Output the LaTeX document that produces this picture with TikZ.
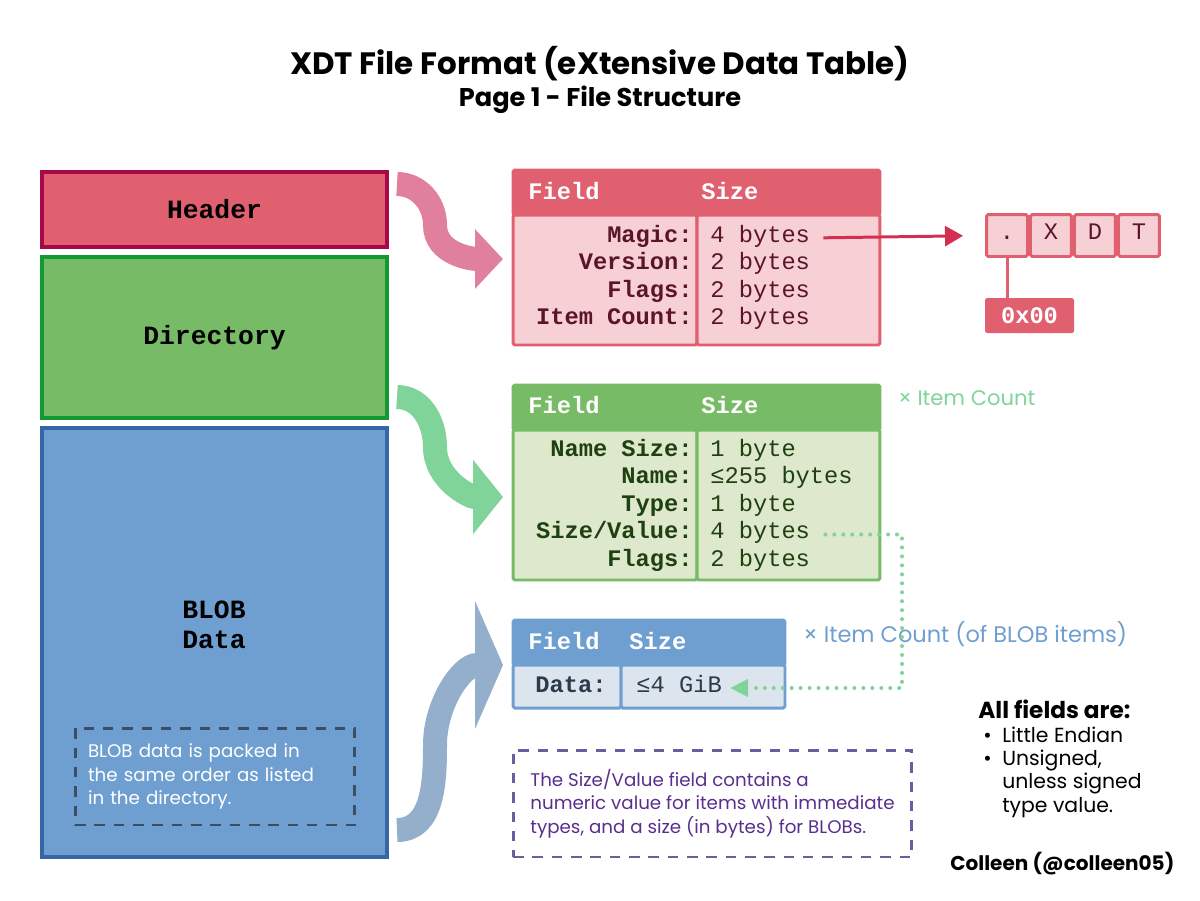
\documentclass[tikz,border=0pt]{standalone}
\usepackage{fontspec}
\setmonofont{Liberation Mono}
\newfontfamily\handfont{Poppins}
\usetikzlibrary{positioning,arrows.meta}

\definecolor{hdrred}{HTML}{E0606F}
\definecolor{hdrdark}{HTML}{A8084A}
\definecolor{hdrlight}{HTML}{F7D0D6}
\definecolor{hdrtext}{HTML}{5C1428}
\definecolor{hdrarrow}{HTML}{E0809C}
\definecolor{magicred}{HTML}{D42E50}
\definecolor{dirgreen}{HTML}{77BB66}
\definecolor{dirdark}{HTML}{119933}
\definecolor{dirlight}{HTML}{DEE8CC}
\definecolor{dirtext}{HTML}{1F4010}
\definecolor{dirarrow}{HTML}{80D49A}
\definecolor{blobblue}{HTML}{6F9FD0}
\definecolor{blobdark}{HTML}{3766A6}
\definecolor{bloblight}{HTML}{DCE4EE}
\definecolor{blobtext}{HTML}{2B3B4B}
\definecolor{blobarrow}{HTML}{93AFCC}
\definecolor{notegrey}{HTML}{3A4F66}
\definecolor{notepurple}{HTML}{6E5BA0}
\definecolor{notetext}{HTML}{5A2E8E}

\begin{document}
\begin{tikzpicture}[
  x=0.02cm, y=-0.02cm,
  part/.style={draw, line width=2.3pt, minimum width=6.9cm, font=\ttfamily\bfseries\fontsize{15}{17}\selectfont, align=center},
  thead/.style={draw, line width=1.7pt, rounded corners=1pt, minimum height=0.9cm},
  tbody/.style={draw, line width=1.7pt, rounded corners=1pt},
  cell/.style={inner sep=0pt, text height=1.6ex, text depth=0.45ex, font=\ttfamily\fontsize{13.5}{15.6}\selectfont},
  fname/.style={cell, anchor=east, font=\ttfamily\bfseries\fontsize{13.5}{15.6}\selectfont},
  fsize/.style={cell, anchor=west},
  colhead/.style={cell, anchor=west, text=white, font=\ttfamily\bfseries\fontsize{13.5}{15.6}\selectfont},
  xcell/.style={draw=hdrred, fill=hdrlight, line width=1.7pt, rounded corners=1pt, minimum width=0.82cm, minimum height=0.84cm, text height=1.6ex, text depth=0.45ex, text=hdrtext, font=\ttfamily\fontsize{13.5}{15.6}\selectfont},
  bigarr/.style={line width=0.48cm},
  hand/.style={inner sep=0pt, font=\handfont\fontsize{10.4}{13.3}\selectfont},
  notebox/.style={hand, draw, dashed, dash pattern=on 6pt off 5pt, line width=1.7pt, align=left},
  dotline/.style={dirarrow, line width=2.3pt, line cap=round, dash pattern=on 0pt off 5.1pt}
]
\useasboundingbox (0,0) rectangle (1200,900);

% title
\node[font=\handfont\bfseries\fontsize{17.6}{21}\selectfont] (title) at (600,64) {XDT File Format (eXtensive Data Table)};
\node[font=\handfont\bfseries\fontsize{14.6}{17}\selectfont] (subtitle) at (600,100) {Page 1 - File Structure};

% file parts
\node[part, fill=hdrred, draw=hdrdark, minimum height=1.5cm] (hdr) at (214.5,209.5) {Header};
\node[part, fill=dirgreen, draw=dirdark, minimum height=3.22cm] (dir) at (214.5,337.5) {Directory};
\node[part, fill=blobblue, draw=blobdark, minimum height=8.58cm] (blob) at (214.5,642.5) {};
\node[font=\ttfamily\bfseries\fontsize{15}{17}\selectfont, align=center] (blobname) at (214,625) {BLOB\\Data};
\node[notebox, draw=notegrey, text=white, minimum width=5.6cm, minimum height=1.94cm, text width=5.08cm] (blobnote) at (215,776.5)
  {BLOB data is packed in\\the same order as listed\\in the directory.};

% big arrows
\draw[bigarr, hdrarrow, -{Triangle[length=0.56cm,width=1.16cm]}] (397,184) to[out=0,in=90] (435,225) to[out=-90,in=180] (503,259);
\draw[bigarr, dirarrow, -{Triangle[length=0.6cm,width=1.46cm]}] (397,397) to[out=0,in=90] (435,447) to[out=-90,in=180] (503,497);
\draw[bigarr, blobarrow, -{Triangle[length=0.56cm,width=2.54cm]}] (397,830) to[out=0,in=-90] (435,745) to[out=90,in=180] (503,665);

% header table
\node[thead, fill=hdrred, draw=hdrred, minimum width=7.34cm] (htitle) at (696.5,192.5) {};
\node[tbody, fill=hdrlight, draw=hdrred, minimum width=3.68cm, minimum height=2.6cm] (hleft) at (605,280) {};
\node[tbody, fill=hdrlight, draw=hdrred, minimum width=3.66cm, minimum height=2.6cm] (hright) at (788.5,280) {};
\node[colhead] (hfield) at (528,195) {Field};
\node[colhead] (hsize) at (701,195) {Size};
\node[fname, text=hdrtext] (hn1) at (693,238) {Magic:};
\node[fname, text=hdrtext] (hn2) at (693,265.5) {Version:};
\node[fname, text=hdrtext] (hn3) at (693,293) {Flags:};
\node[fname, text=hdrtext] (hn4) at (693,320.5) {Item Count:};
\node[fsize, text=hdrtext] (hv1) at (710,238) {4 bytes};
\node[fsize, text=hdrtext] (hv2) at (710,265.5) {2 bytes};
\node[fsize, text=hdrtext] (hv3) at (710,293) {2 bytes};
\node[fsize, text=hdrtext] (hv4) at (710,320.5) {2 bytes};

% magic bytes
\node[xcell] (xdot) at (1007,235.5) {.};
\node[xcell, right=0pt of xdot] (xx) {X};
\node[xcell, right=0pt of xx] (xd) {D};
\node[xcell, right=0pt of xd] (xt) {T};
\node[fill=hdrred, rounded corners=1pt, minimum width=1.78cm, minimum height=0.7cm, text=white, font=\ttfamily\bfseries\fontsize{13.5}{15.6}\selectfont] (zero) at (1029.5,315.5) {0x00};
\draw[line width=1.7pt, magicred, -{Triangle[length=0.36cm,width=0.4cm]}, shorten <=0.26cm, shorten >=0.44cm] (hv1.east) -- (xdot.west);
\draw[line width=1.7pt, hdrred] (xdot.south) -- (xdot.south |- zero.north);

% directory table
\node[thead, fill=dirgreen, draw=dirgreen, minimum width=7.34cm] (dtitle) at (696.5,407.5) {};
\node[tbody, fill=dirlight, draw=dirgreen, minimum width=3.68cm, minimum height=3cm] (dleft) at (605,505) {};
\node[tbody, fill=dirlight, draw=dirgreen, minimum width=3.66cm, minimum height=3cm] (dright) at (788.5,505) {};
\node[colhead] (dfield) at (528,409) {Field};
\node[colhead] (dsize) at (701,409) {Size};
\node[fname, text=dirtext] (dn1) at (693,452) {Name Size:};
\node[fname, text=dirtext] (dn2) at (693,479.5) {Name:};
\node[fname, text=dirtext] (dn3) at (693,507) {Type:};
\node[fname, text=dirtext] (dn4) at (693,534.5) {Size/Value:};
\node[fname, text=dirtext] (dn5) at (693,562) {Flags:};
\node[fsize, text=dirtext] (dv1) at (710,452) {1 byte};
\node[fsize, text=dirtext] (dv2) at (710,479.5) {≤255 bytes};
\node[fsize, text=dirtext] (dv3) at (710,507) {1 byte};
\node[fsize, text=dirtext] (dv4) at (710,534.5) {4 bytes};
\node[fsize, text=dirtext] (dv5) at (710,562) {2 bytes};
\node[hand, anchor=base west, text=dirarrow, font=\handfont\fontsize{12}{14}\selectfont] (dcount) at (898,405) {× Item Count};

% blob table
\node[thead, fill=blobblue, draw=blobblue, minimum width=5.44cm] (btitle) at (649,642.5) {};
\node[tbody, fill=bloblight, draw=blobblue, minimum width=2.16cm, minimum height=0.86cm] (bleft) at (567,686.5) {};
\node[tbody, fill=bloblight, draw=blobblue, minimum width=3.28cm, minimum height=0.86cm] (bright) at (703,686.5) {};
\node[colhead] (bfield) at (528,645) {Field};
\node[colhead] (bsize) at (629,645) {Size};
\node[fname, text=blobtext] (bn) at (607,688) {Data:};
\node[fsize, text=blobtext] (bv) at (636,688) {≤4 GiB};
\node[hand, anchor=base west, text=blobblue, font=\handfont\fontsize{12.8}{15}\selectfont] (bcount) at (803,642) {× Item Count (of BLOB items)};

% size/value goes to the data size
\coordinate (dotx) at (902,600);
\draw[dotline, -{Triangle[length=0.36cm,width=0.34cm]}] ([xshift=0.3cm]dv4.east) -| (dotx |- bv.east) -- ([xshift=0.16cm]bv.east);

% notes
\node[notebox, draw=notepurple, text=notetext, minimum width=7.98cm, minimum height=2.14cm] (svnote) at (712.5,803.5)
  {The Size/Value field contains a\\numeric value for items with immediate\\types, and a size (in bytes) for BLOBs.};
\node[hand, anchor=base west, font=\handfont\bfseries\fontsize{13.2}{16}\selectfont] (allf) at (978,718) {All fields are:};
\node[hand, anchor=north west, align=left, font=\handfont\fontsize{11.6}{13.2}\selectfont] (allfl) at (983,726)
  {\begin{tabular}{@{}l@{\hspace{6pt}}l@{}}
   \textbullet & Little Endian\\
   \textbullet & Unsigned,\\
   & unless signed\\
   & type value.
   \end{tabular}};
\node[hand, anchor=base west, font=\handfont\bfseries\fontsize{11.4}{14}\selectfont] (credit) at (950,870) {Colleen (@colleen05)};
\end{tikzpicture}
\end{document}
